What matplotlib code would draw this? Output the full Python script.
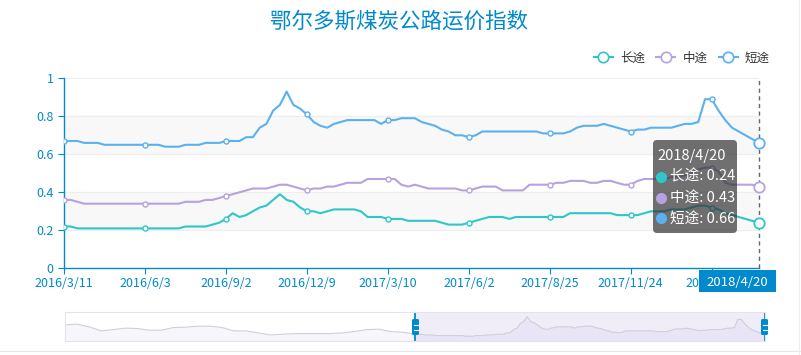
import matplotlib
matplotlib.use('Agg')
import matplotlib.pyplot as plt
from matplotlib.lines import Line2D
from matplotlib.patches import FancyBboxPatch
from matplotlib.transforms import IdentityTransform
import numpy as np
import pandas as pd

plt.rcParams['font.family'] = ['Noto Sans CJK SC', 'DejaVu Sans']

W, H = 801, 355

title = '鄂尔多斯煤炭公路运价指数'
series_names = ['长途', '中途', '短途']
colors = ['#2ec7c9', '#b6a2de', '#5ab1ef']
axis_blue = '#008acd'

# weekly (Friday) index, a few weeks have no data
skipped = ['2016-08-05', '2016-09-16', '2016-10-07', '2017-02-03',
           '2017-10-06', '2018-02-16', '2018-02-23']
dates = pd.date_range('2016-03-11', '2018-04-20', freq='W-FRI').drop(pd.to_datetime(skipped))
date_labels = [f'{d.year}/{d.month}/{d.day}' for d in dates]

long_haul = [
    0.22, 0.22, 0.21, 0.21, 0.21, 0.21, 0.21, 0.21, 0.21, 0.21, 0.21, 0.21,
    0.21, 0.21, 0.21, 0.21, 0.21, 0.21, 0.22, 0.22, 0.22, 0.22, 0.23, 0.24,
    0.26, 0.29, 0.27, 0.28, 0.30, 0.32, 0.33, 0.36, 0.39, 0.36, 0.35, 0.32,
    0.30, 0.30, 0.29, 0.30, 0.31, 0.31, 0.31, 0.31, 0.30, 0.27, 0.27, 0.27,
    0.26, 0.26, 0.26, 0.25, 0.25, 0.25, 0.25, 0.25, 0.24, 0.23, 0.23, 0.23,
    0.24, 0.25, 0.26, 0.27, 0.27, 0.27, 0.26, 0.27, 0.27, 0.27, 0.27, 0.27,
    0.27, 0.27, 0.27, 0.29, 0.29, 0.29, 0.29, 0.29, 0.29, 0.29, 0.28, 0.28,
    0.28, 0.28, 0.29, 0.30, 0.30, 0.30, 0.31, 0.31, 0.31, 0.32, 0.33, 0.33,
    0.32, 0.31, 0.29, 0.28, 0.27, 0.26, 0.25, 0.24]
mid_haul = [
    0.36, 0.36, 0.35, 0.34, 0.34, 0.34, 0.34, 0.34, 0.34, 0.34, 0.34, 0.34,
    0.34, 0.34, 0.34, 0.34, 0.34, 0.34, 0.35, 0.35, 0.35, 0.36, 0.36, 0.37,
    0.38, 0.39, 0.40, 0.41, 0.42, 0.42, 0.42, 0.43, 0.44, 0.44, 0.43, 0.42,
    0.41, 0.42, 0.42, 0.43, 0.43, 0.44, 0.45, 0.45, 0.45, 0.47, 0.47, 0.47,
    0.47, 0.47, 0.44, 0.43, 0.44, 0.43, 0.42, 0.42, 0.42, 0.42, 0.42, 0.41,
    0.41, 0.42, 0.43, 0.43, 0.43, 0.41, 0.41, 0.41, 0.41, 0.44, 0.44, 0.44,
    0.44, 0.45, 0.45, 0.46, 0.46, 0.46, 0.45, 0.45, 0.46, 0.46, 0.45, 0.44,
    0.44, 0.46, 0.47, 0.47, 0.47, 0.47, 0.48, 0.48, 0.49, 0.50, 0.52, 0.53,
    0.53, 0.51, 0.45, 0.44, 0.44, 0.44, 0.44, 0.43]
short_haul = [
    0.67, 0.67, 0.67, 0.66, 0.66, 0.66, 0.65, 0.65, 0.65, 0.65, 0.65, 0.65,
    0.65, 0.65, 0.65, 0.64, 0.64, 0.64, 0.65, 0.65, 0.65, 0.66, 0.66, 0.66,
    0.67, 0.67, 0.67, 0.69, 0.69, 0.74, 0.76, 0.83, 0.86, 0.93, 0.86, 0.84,
    0.81, 0.77, 0.75, 0.74, 0.76, 0.77, 0.78, 0.78, 0.78, 0.78, 0.78, 0.76,
    0.78, 0.78, 0.79, 0.79, 0.79, 0.77, 0.76, 0.75, 0.73, 0.72, 0.70, 0.70,
    0.69, 0.70, 0.72, 0.72, 0.72, 0.72, 0.72, 0.72, 0.72, 0.72, 0.72, 0.71,
    0.71, 0.71, 0.71, 0.72, 0.74, 0.75, 0.75, 0.75, 0.76, 0.75, 0.74, 0.73,
    0.72, 0.73, 0.73, 0.74, 0.74, 0.74, 0.74, 0.75, 0.76, 0.76, 0.77, 0.89,
    0.89, 0.83, 0.78, 0.74, 0.72, 0.70, 0.68, 0.66]
# earlier (out of window) part, as seen in the zoom slider preview
early_preview = [0.81, 0.82, 0.78, 0.72, 0.74, 0.76, 0.755, 0.73, 0.73, 0.77,
                 0.775, 0.79, 0.79, 0.77, 0.72, 0.72, 0.69, 0.66, 0.67, 0.68,
                 0.68, 0.68, 0.68, 0.69, 0.71, 0.74, 0.745, 0.71, 0.70, 0.67]

y_ticks = [0, 0.2, 0.4, 0.6, 0.8, 1.0]
y_labels = ['0', '0.2', '0.4', '0.6', '0.8', '1']
label_step = 12


def fx(px):
    return px / W


def fy(py):
    return 1 - py / H


def pix_box(x0, y0, x1, y1, **kw):
    # box in image pixel coords (y down)
    return FancyBboxPatch((x0, H - y1), x1 - x0, y1 - y0,
                          transform=IdentityTransform(), **kw)


fig = plt.figure(figsize=(W / 100, H / 100), dpi=100)
fig.patch.set_facecolor('white')

fig.text(fx(399), fy(22), title, color=axis_blue, fontsize=15.5,
         ha='center', va='center')

# ---- main chart ----
ax = fig.add_axes([fx(64), fy(268.3), (759 - 64) / W, (268.3 - 78.3) / H])
x = np.arange(len(short_haul))
series = [long_haul, mid_haul, short_haul]

ax.set_xlim(0, len(x) - 1)
ax.set_ylim(0, 1)
ax.axhspan(0.2, 0.4, color='#f8f8f8', zorder=0)
ax.axhspan(0.6, 0.8, color='#f8f8f8', zorder=0)
for yv in y_ticks[1:]:
    ax.axhline(yv, color='#eeeeee', lw=0.8, zorder=0.5)

marks = list(range(0, len(x), label_step))
for vals, c in zip(series, colors):
    ax.plot(x, vals, color=c, lw=1.5, zorder=3, solid_joinstyle='round',
            marker='o', ms=3.6, mfc='white', mec=c, mew=1.0, markevery=marks)

# axis pointer at the hovered (last) week
ax.axvline(x[-1], color='#666666', ls=(0, (3, 2.5)), lw=1.0, zorder=4,
           clip_on=False)
for vals, c in zip(series, colors):
    ax.plot(x[-1], vals[-1], 'o', ms=7.5, mfc='white', mec=c, mew=1.3,
            zorder=6, clip_on=False)

for s in ['top', 'right']:
    ax.spines[s].set_visible(False)
for s in ['left', 'bottom']:
    ax.spines[s].set_color(axis_blue)
    ax.spines[s].set_linewidth(1.0)

ax.set_yticks(y_ticks)
ax.set_yticklabels(y_labels)
ax.set_xticks(marks)
ax.set_xticklabels([date_labels[i] for i in marks])
ax.tick_params(axis='both', colors=axis_blue, labelcolor=axis_blue,
               labelsize=9, length=4.5, width=0.8)
ax.tick_params(axis='y', pad=3)
ax.tick_params(axis='x', pad=2)

# ---- legend ----
handles = [Line2D([], [], color=c, lw=1.5, marker='o', ms=7.5, mfc='white',
                  mec=c, mew=1.2) for c in colors]
fig.legend(handles, series_names, loc='center right',
           bbox_to_anchor=(fx(775), fy(58)), ncol=3, frameon=False,
           fontsize=9, handlelength=1.5, handletextpad=0.6,
           columnspacing=0.9, labelcolor='#333333', borderaxespad=0)

# ---- tooltip ----
fig.add_artist(pix_box(653, 140, 737, 233,
                       boxstyle='round,pad=0,rounding_size=4',
                       facecolor=(0.2, 0.2, 0.2, 0.7), edgecolor='none',
                       zorder=10))
fig.text(fx(657), fy(155.5), date_labels[-1], color='white', fontsize=10.5,
         va='center', zorder=11)
for k, (name, vals, c) in enumerate(zip(series_names, series, colors)):
    ry = 176.7 + k * 20.8
    fig.add_artist(Line2D([fx(661)], [fy(ry)], marker='o', ms=7, color=c,
                          transform=fig.transFigure, zorder=11))
    fig.text(fx(670.5), fy(ry), f'{name}: {vals[-1]:.2f}', color='white',
             fontsize=10.5, va='center', zorder=11)

# axis pointer label (covers the last regular tick label, as in the source)
fig.add_artist(pix_box(699, 270, 776, 292, boxstyle='square,pad=0',
                       facecolor=axis_blue, edgecolor='none', zorder=10))
fig.text(fx(737.5), fy(282), date_labels[-1], color='white', fontsize=9.5,
         ha='center', va='center', zorder=11)

# ---- data zoom slider ----
axs = fig.add_axes([fx(65), fy(341), 700 / W, 29 / H])
axs.set_xlim(0, 2)
axs.set_ylim(0.57, 1.0)
axs.set_xticks([])
axs.set_yticks([])
for s in axs.spines.values():
    s.set_color('#e3e3ee')
    s.set_linewidth(0.8)
xe = np.linspace(0, 1, len(early_preview))
xs = 1 + x / x[-1]
px = np.concatenate([xe, xs])
py = np.concatenate([early_preview, short_haul])
axs.fill_between(px, 0.57, py, color='#f6f6fc', lw=0)
axs.plot(px, py, color='#cfcfd8', lw=0.8)
axs.axvspan(1, 2, color='#b6a2de', alpha=0.2, lw=0)
for hx in (1, 2):
    axs.axvline(hx, color=axis_blue, lw=1.3)

for hpx in (415.5, 764.5):
    fig.add_artist(pix_box(hpx - 3.5, 319, hpx + 3.5, 335,
                           boxstyle='round,pad=0,rounding_size=1.5',
                           facecolor=axis_blue, edgecolor='none', zorder=10))
    for ly in (324.5, 329.5):
        fig.add_artist(Line2D([fx(hpx - 2), fx(hpx + 2)], [fy(ly), fy(ly)],
                              color='white', lw=0.8,
                              transform=fig.transFigure, zorder=11))

# container border lines
fig.add_artist(Line2D([0, 1], [fy(351), fy(351)], color='#e6e6e6', lw=0.8,
                      transform=fig.transFigure))
fig.add_artist(Line2D([fx(799), fx(799)], [0, 1], color='#eeeeee', lw=0.8,
                      transform=fig.transFigure))

fig.savefig('out.png', dpi=100)
